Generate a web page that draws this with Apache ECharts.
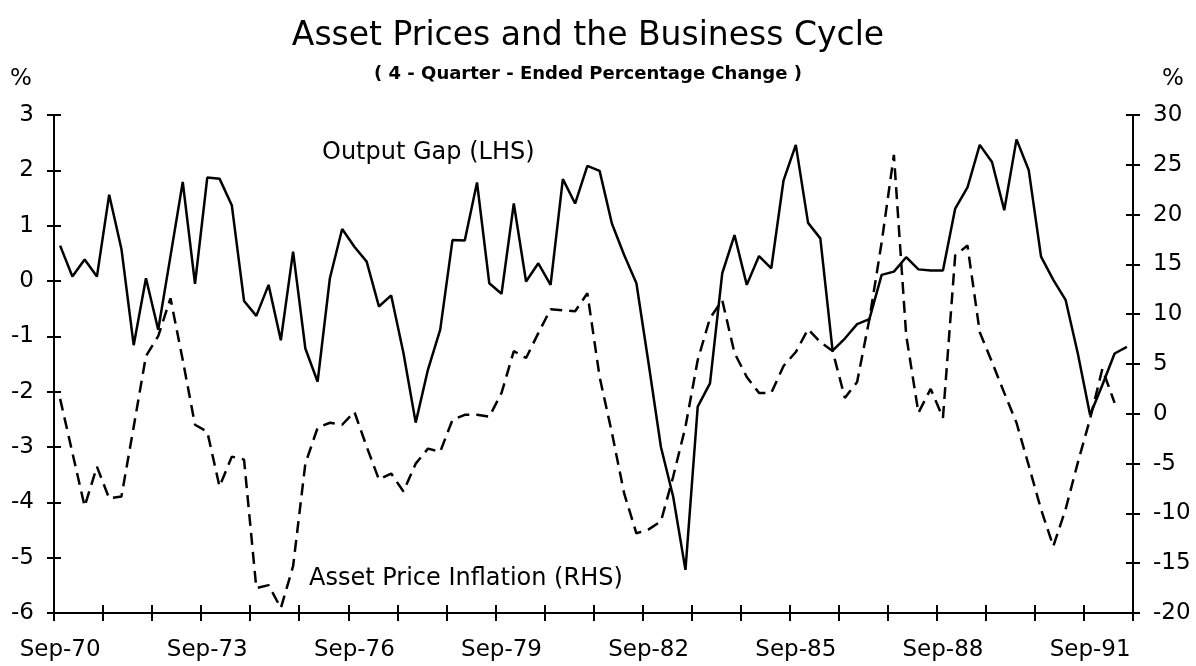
<!DOCTYPE html>
<html>
<head>
<meta charset="utf-8">
<title>Asset Prices and the Business Cycle</title>
<script src="https://cdn.jsdelivr.net/npm/echarts@6/dist/echarts.min.js"></script>
<style>
  html, body { margin: 0; padding: 0; background: #fff; }
  #chart { width: 1196px; height: 666px; }
</style>
</head>
<body>
<div id="chart"></div>
<script>
// quarterly, Sep-70 .. Jun-92
var outputGap = [
  0.64, 0.08, 0.39, 0.08, 1.56, 0.58, -1.16, 0.05, -0.88, 0.45,
  1.79, -0.05, 1.87, 1.85, 1.37, -0.36, -0.63, -0.07, -1.07, 0.53,
  -1.22, -1.82, 0.05, 0.94, 0.62, 0.35, -0.46, -0.26, -1.30, -2.56,
  -1.60, -0.88, 0.74, 0.73, 1.78, -0.04, -0.23, 1.40, -0.01, 0.32,
  -0.07, 1.84, 1.40, 2.08, 1.99, 1.04, 0.47, -0.04, -1.50, -3.00,
  -3.90, -5.22, -2.27, -1.85, 0.14, 0.83, -0.07, 0.45, 0.23, 1.82,
  2.46, 1.05, 0.77, -1.26, -1.04, -0.78, -0.69, 0.11, 0.17, 0.43,
  0.21, 0.19, 0.19, 1.31, 1.69, 2.46, 2.15, 1.28, 2.56, 2.00,
  0.44, 0.02, -0.34, -1.31, -2.42, -1.88, -1.31, -1.19
];
var assetInflation = [
  1.5, -3.9, -9.3, -5.3, -8.5, -8.3, -1.3, 5.8, 7.8, 11.6,
  5.4, -1.1, -1.8, -7.3, -4.3, -4.6, -17.5, -17.2, -19.5, -15.3,
  -5.0, -1.4, -0.9, -1.1, 0.2, -3.3, -6.6, -6.0, -7.8, -5.0,
  -3.5, -3.8, -0.6, -0.1, -0.1, -0.3, 2.1, 6.3, 5.6, 8.1,
  10.5, 10.4, 10.3, 12.1, 3.7, -1.9, -8.0, -12.0, -11.6, -10.8,
  -6.3, -1.3, 5.4, 9.6, 11.4, 6.1, 3.7, 2.1, 2.1, 4.8,
  6.2, 8.5, 7.2, 6.3, 1.6, 3.2, 9.5, 17.2, 26.0, 7.9,
  0.1, 2.5, -0.4, 15.9, 16.9, 8.2, 5.2, 2.1, -0.9, -5.2,
  -9.6, -13.3, -9.6, -4.9, -0.5, 4.5, 1.1, null
];
var quarterMonths = ['Sep', 'Dec', 'Mar', 'Jun'];
var quarters = [];
for (var i = 0; i < outputGap.length; i++) {
  quarters.push(quarterMonths[i % 4] + '-' + (70 + Math.floor((i + 2) / 4)));
}

var chart = echarts.init(document.getElementById('chart'));
var FONT = '"DejaVu Sans", sans-serif';

// ticks cross the axis line, so every axis is drawn twice: outer ticks + inner ticks
function catAxis(outer) {
  return {
    type: 'category',
    data: quarters,
    position: 'bottom',
    boundaryGap: true,
    axisLine: { show: outer, onZero: false, lineStyle: { color: '#000', width: 2 } },
    axisTick: { show: true, inside: !outer, interval: 3, length: 8, lineStyle: { color: '#000', width: 2 } },
    axisLabel: { show: outer, interval: 11, margin: 26, color: '#000', fontSize: 23, fontFamily: FONT },
    splitLine: { show: false }
  };
}

function valAxis(pos, min, max, step, outer) {
  return {
    type: 'value',
    position: pos,
    min: min,
    max: max,
    interval: step,
    axisLine: { show: outer, onZero: false, lineStyle: { color: '#000', width: 2 } },
    axisTick: { show: true, inside: !outer, length: 7, lineStyle: { color: '#000', width: 2 } },
    axisLabel: { show: outer, margin: 20, color: '#000', fontSize: 23, fontFamily: FONT },
    splitLine: { show: false }
  };
}

var option = {
  backgroundColor: '#fff',
  animation: false,
  grid: { left: 54, right: 63, top: 115, bottom: 53, containLabel: false },
  xAxis: [catAxis(true), catAxis(false)],
  yAxis: [
    valAxis('left', -6, 3, 1, true),
    valAxis('right', -20, 30, 5, true),
    valAxis('left', -6, 3, 1, false),
    valAxis('right', -20, 30, 5, false)
  ],
  series: [{
    name: 'Output Gap (LHS)',
    type: 'line',
    xAxisIndex: 0,
    yAxisIndex: 0,
    data: outputGap,
    symbol: 'none',
    lineStyle: { color: '#000', width: 2.5 }
  }, {
    name: 'Asset Price Inflation (RHS)',
    type: 'line',
    xAxisIndex: 0,
    yAxisIndex: 1,
    data: assetInflation,
    symbol: 'none',
    lineStyle: { color: '#000', width: 2.5, type: [12, 7] }
  }],
  graphic: [
    { type: 'text', x: 588, y: 36, style: { text: 'Asset Prices and the Business Cycle', font: '33px ' + FONT, fill: '#000', align: 'center', verticalAlign: 'middle' } },
    { type: 'text', x: 588, y: 74, style: { text: '( 4 - Quarter - Ended Percentage Change )', font: 'bold 18px ' + FONT, fill: '#000', align: 'center', verticalAlign: 'middle' } },
    { type: 'text', x: 10, y: 79, style: { text: '%', font: '23px ' + FONT, fill: '#000', align: 'left', verticalAlign: 'middle' } },
    { type: 'text', x: 1162, y: 79, style: { text: '%', font: '23px ' + FONT, fill: '#000', align: 'left', verticalAlign: 'middle' } },
    { type: 'text', x: 322, y: 153, style: { text: 'Output Gap (LHS)', font: '24px ' + FONT, fill: '#000', align: 'left', verticalAlign: 'middle' } },
    { type: 'text', x: 309, y: 579, style: { text: 'Asset Price Inflation (RHS)', font: '24px ' + FONT, fill: '#000', align: 'left', verticalAlign: 'middle' } }
  ]
};
chart.setOption(option);
</script>
</body>
</html>
